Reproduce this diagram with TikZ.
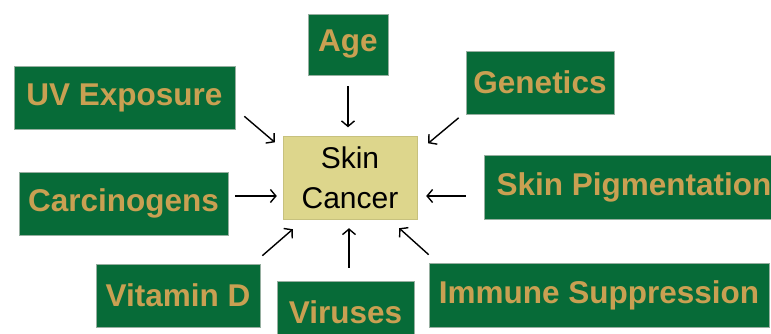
\documentclass[tikz,border=0pt]{standalone}
\usepackage{fontspec}
\setmainfont{Liberation Sans}
\usetikzlibrary{arrows.meta}
\definecolor{factorgreen}{RGB}{7,107,56}
\definecolor{factorgold}{RGB}{201,160,82}
\definecolor{factorline}{RGB}{150,175,160}
\definecolor{cancertan}{RGB}{221,214,140}
\begin{document}
\begin{tikzpicture}[x=1pt, y=1pt,
    factor/.style={fill=factorgreen, draw=factorline, line width=0.6pt, inner sep=0pt,
        text=factorgold, font=\fontsize{31.5}{36}\selectfont\bfseries},
    arr/.style={-{Straight Barb[length=5.5pt,width=13pt]}, line width=1.4pt, black}]
    \clip (0, 0) rectangle (771, 333);
    \fill[white] (0, 0) rectangle (771, 333);

    \node[fill=cancertan, draw=cancertan!90!black, line width=0.4pt, inner sep=0pt,
        minimum width=134, minimum height=83, align=center,
        font=\fontsize{30}{40}\selectfont] (cancer) at (350, 155.5) {Skin\\Cancer};

    \node[factor, minimum width=80, minimum height=61] (age) at (348, 288.5) {Age};
    \node[factor, minimum width=221, minimum height=63] (uv) at (124.5, 235.5) {UV Exposure};
    \node[factor, minimum width=148, minimum height=63] (genetics) at (540, 250.5) {Genetics};
    \node[factor, minimum width=300, minimum height=64] (pigment) at (634, 146) {Skin Pigmentation};
    \node[factor, minimum width=209, minimum height=63] (carcino) at (123.5, 129.5) {Carcinogens};
    \node[factor, minimum width=164, minimum height=63] (vitd) at (178, 37.5) {Vitamin D};
    \node[factor, minimum width=137, minimum height=63] (virus) at (345.5, 20.5) {Viruses};
    \node[factor, minimum width=340, minimum height=64] (immune) at (599, 38) {Immune Suppression};

    \draw[arr] ([shift={(0,-11)}]age.south) -- ([shift={(-2,8.5)}]cancer.north);
    \draw[arr] ([shift={(9,13)}]uv.south east) -- ([shift={(-8,-6.5)}]cancer.north west);
    \draw[arr] ([shift={(-7,-3.5)}]genetics.south west) -- ([shift={(11,-7.5)}]cancer.north east);
    \draw[arr] ([shift={(7,7.5)}]carcino.east) -- ([shift={(-6,-18.5)}]cancer.west);
    \draw[arr] ([shift={(-18,-9)}]pigment.west) -- ([shift={(9,-18.5)}]cancer.east);
    \draw[arr] ([shift={(2,8)}]vitd.north east) -- ([shift={(10,-10)}]cancer.south west);
    \draw[arr] ([shift={(3.5,13)}]virus.north) -- ([shift={(-1,-9)}]cancer.south);
    \draw[arr] ([shift={(0,8)}]immune.north west) -- ([shift={(-18,-9)}]cancer.south east);
\end{tikzpicture}
\end{document}
